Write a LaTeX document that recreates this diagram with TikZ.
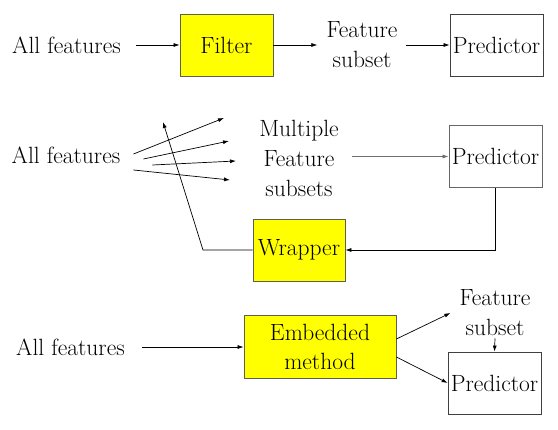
\documentclass[tikz,border=0pt]{standalone}
\definecolor{boxyellow}{RGB}{255, 255, 0}
\definecolor{boxedge}{RGB}{95, 95, 80}
\definecolor{lineg}{RGB}{110, 110, 110}
\usetikzlibrary{arrows.meta, calc}

\tikzset{
  txt/.style={inner sep=0pt, align=center, font=\fontsize{23.5}{30}\selectfont},
  method/.style={draw=boxedge, fill=boxyellow, line width=0.8pt, minimum height=62pt, align=center, inner sep=0pt, font=\fontsize{23.5}{29}\selectfont},
  predbox/.style={draw=black!75, line width=0.8pt, minimum width=93pt, minimum height=62pt, inner sep=0pt, font=\fontsize{23.5}{29}\selectfont},
  arr/.style={-{Latex[length=6pt, width=4pt]}, line width=0.7pt}
}

\begin{document}
\begin{tikzpicture}[x=1pt, y=-1pt]
  \useasboundingbox (0,0) rectangle (558,430);

  % filter
  \node[txt] (all1) at (66.5,45) {All features};
  \node[method, minimum width=93pt] (filter) at (226.5,45) {Filter};
  \node[txt] (fs1) at (362,45) {Feature\\subset};
  \node[predbox] (pred1) at (496.5,45) {Predictor};
  \draw[arr] ([xshift=15pt]all1.east) -- (filter.west);
  \draw[arr] (filter.east) -- ([xshift=-9pt]fs1.west);
  \draw[arr] ([xshift=8pt]fs1.east) -- (pred1.west);

  % wrapper
  \node[txt] (all2) at (66,155) {All features};
  \node[txt] (mfs) at (299,158) {Multiple\\Feature\\subsets};
  \node[predbox, draw=black!60] (pred2) at (495.5,156.5) {Predictor};
  \node[method, minimum width=92pt] (wrap) at (299,250) {Wrapper};
  \coordinate (f1) at (224,118);
  \coordinate (f2) at (229,141);
  \coordinate (f3) at (236,161);
  \coordinate (f4) at (230,180);
  \coordinate (bend) at (203,250);
  \coordinate (back) at (163,122);
  \draw[arr] ([shift={(13,-1)}]all2.east) -- (f1);
  \draw[arr] ([shift={(23,4)}]all2.east) -- (f2);
  \draw[arr] ([shift={(32,10)}]all2.east) -- (f3);
  \draw[arr] ([shift={(13,15)}]all2.east) -- (f4);
  \draw[arr, lineg] ([xshift=13pt]mfs.east |- pred2.west) -- (pred2.west);
  \draw[arr] (pred2.south) |- (wrap.east);
  \draw[arr] (wrap.west) -- (bend) -- (back);

  % embedded
  \node[txt] (all3) at (70.5,347) {All features};
  \node[method, minimum width=152pt, minimum height=63pt] (emb) at (320,347) {Embedded\\method};
  \node[txt] (fs3) at (495,313) {Feature\\subset};
  \node[predbox] (pred3) at (494.5,383) {Predictor};
  \draw[arr] ([xshift=17pt]all3.east) -- (emb.west);
  \draw[arr] ([yshift=8pt]emb.east) -- ([xshift=-9pt]fs3.west);
  \draw[arr] ([yshift=-10pt]emb.east) -- (pred3.west);
  \draw[arr] ([yshift=-2pt]fs3.south) -- (pred3.north);
\end{tikzpicture}
\end{document}
